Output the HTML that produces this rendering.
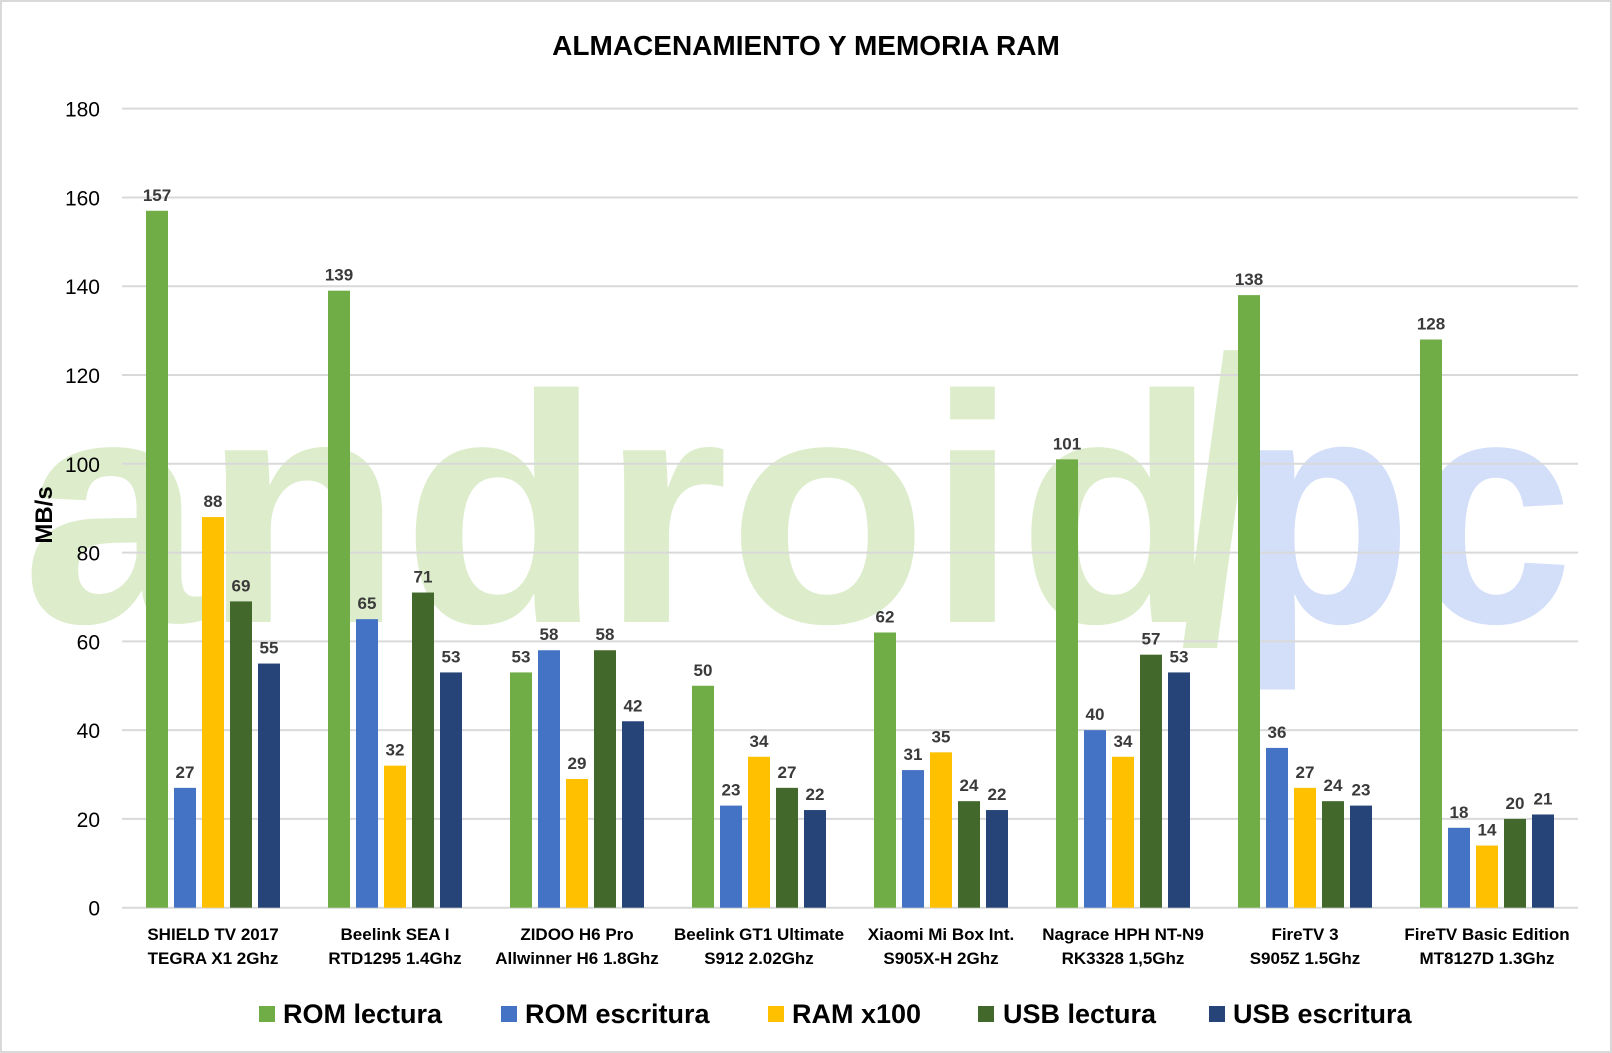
<!DOCTYPE html>
<html><head><meta charset="utf-8"><style>
html,body{margin:0;padding:0;background:#fff}
svg{display:block;font-family:"Liberation Sans",sans-serif}
</style></head><body>
<svg width="1612" height="1053" viewBox="0 0 1612 1053" xmlns="http://www.w3.org/2000/svg">
<rect x="1" y="1" width="1610" height="1051" fill="#fff" stroke="#d9d9d9" stroke-width="2"/>
<!-- watermark -->
<text x="22" y="622" font-size="325" font-weight="bold" fill="#ddedcc" textLength="1195" lengthAdjust="spacingAndGlyphs">android</text>
<text x="1180" y="640" font-size="400" font-weight="bold" fill="#ddedcc" textLength="80" lengthAdjust="spacingAndGlyphs">/</text>
<text x="1235" y="622" font-size="325" font-weight="bold" fill="#d3def9" textLength="338" lengthAdjust="spacingAndGlyphs">pc</text>
<text x="806" y="55" font-size="28" font-weight="bold" text-anchor="middle" fill="#000">ALMACENAMIENTO Y MEMORIA RAM</text>
<g id="grid" stroke="#d9d9d9" stroke-width="2"></g>
<g id="bars"></g>
<text transform="translate(52,515) rotate(-90)" font-size="24" font-weight="bold" text-anchor="middle" fill="#000">MB/s</text>
<g font-size="27" font-weight="bold" fill="#000">
<rect x="259" y="1006" width="16" height="16" fill="#70ad47"/><text x="283" y="1023">ROM lectura</text>
<rect x="501" y="1006" width="16" height="16" fill="#4472c4"/><text x="525" y="1023">ROM escritura</text>
<rect x="768" y="1006" width="16" height="16" fill="#ffc000"/><text x="792" y="1023">RAM x100</text>
<rect x="978" y="1006" width="16" height="16" fill="#43682b"/><text x="1003" y="1023">USB lectura</text>
<rect x="1209" y="1006" width="16" height="16" fill="#264478"/><text x="1233" y="1023">USB escritura</text>
</g>
</svg>
<script>
const ns="http://www.w3.org/2000/svg";
const g=document.getElementById('grid'),b=document.getElementById('bars');
function el(t,a,p,txt){const e=document.createElementNS(ns,t);for(const k in a)e.setAttribute(k,a[k]);if(txt!==undefined)e.textContent=txt;p.appendChild(e);return e;}
const y0=907.7,unit=88.78/20,L=122,R=1578;
for(let v=0;v<=180;v+=20){const y=y0-v*unit;el('line',{x1:L,x2:R,y1:y,y2:y},g);
el('text',{x:100,y:y+8,'font-size':21,'text-anchor':'end',fill:'#000'},b,String(v));}
const data=[[157,27,88,69,55],[139,65,32,71,53],[53,58,29,58,42],[50,23,34,27,22],[62,31,35,24,22],[101,40,34,57,53],[138,36,27,24,23],[128,18,14,20,21]];
const cols=['#70ad47','#4472c4','#ffc000','#43682b','#264478'];
const cats=[["SHIELD TV 2017","TEGRA X1 2Ghz"],["Beelink SEA I","RTD1295 1.4Ghz"],["ZIDOO H6 Pro","Allwinner H6 1.8Ghz"],["Beelink GT1 Ultimate","S912 2.02Ghz"],["Xiaomi Mi Box Int.","S905X-H 2Ghz"],["Nagrace HPH NT-N9","RK3328 1,5Ghz"],["FireTV 3","S905Z 1.5Ghz"],["FireTV Basic Edition","MT8127D 1.3Ghz"]];
data.forEach((d,i)=>{const gx=L+182*i;
d.forEach((v,j)=>{const x=gx+24+28*j,h=v*unit;
el('rect',{x:x,y:y0-h,width:22,height:h,fill:cols[j]},b);
el('text',{x:x+11,y:y0-h-10,'font-size':17,'font-weight':'bold','text-anchor':'middle',fill:'#3a3a3a'},b,String(v));});
el('text',{x:gx+91,y:940,'font-size':17,'font-weight':'bold','text-anchor':'middle',fill:'#000'},b,cats[i][0]);
el('text',{x:gx+91,y:964,'font-size':17,'font-weight':'bold','text-anchor':'middle',fill:'#000'},b,cats[i][1]);});
</script>
</body></html>
